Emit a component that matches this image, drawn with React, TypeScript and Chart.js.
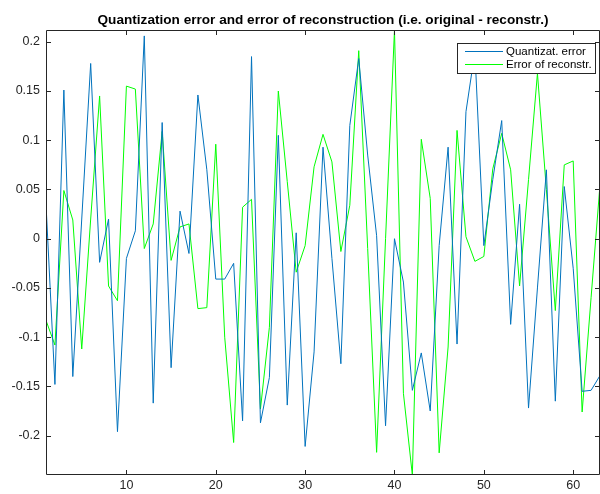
import React, { useEffect, useRef } from "react";
import { Chart, registerables } from "chart.js";

Chart.register(...registerables);

const chartTitle =
  "Quantization error and error of reconstruction (i.e. original - reconstr.)";
const seriesNames = ["Quantizat. error", "Error of reconstr."];

const sampleIndex = [
  1, 2, 3, 4, 5, 6, 7, 8, 9, 10, 11, 12, 13, 14, 15, 16, 17, 18, 19, 20, 21,
  22, 23, 24, 25, 26, 27, 28, 29, 30, 31, 32, 33, 34, 35, 36, 37, 38, 39, 40,
  41, 42, 43, 44, 45, 46, 47, 48, 49, 50, 51, 52, 53, 54, 55, 56, 57, 58, 59,
  60, 61, 62, 63,
];

const quantizationError = [
  0.035, -0.148, 0.151, -0.14, 0.02, 0.178, -0.024, 0.02, -0.196, -0.02,
  0.008, 0.206, -0.167, 0.118, -0.131, 0.028, -0.015, 0.146, 0.07, -0.041,
  -0.041, -0.025, -0.185, 0.185, -0.187, -0.141, 0.105, -0.169, 0.006, -0.211,
  -0.115, 0.093, -0.02, -0.127, 0.115, 0.183, 0.085, 0.003, -0.19, 0.0,
  -0.044, -0.154, -0.116, -0.175, -0.007, 0.093, -0.107, 0.129, 0.19, -0.007,
  0.06, 0.12, -0.087, 0.035, -0.172, -0.05, 0.07, -0.165, 0.053, -0.03,
  -0.155, -0.154, -0.139,
];

const reconstructionError = [
  -0.083, -0.108, 0.049, 0.019, -0.112, 0.02, 0.145, -0.048, -0.063, 0.155,
  0.152, -0.01, 0.015, 0.109, -0.022, 0.012, 0.015, -0.071, -0.07, 0.096,
  -0.1, -0.207, 0.032, 0.04, -0.173, -0.09, 0.15, 0.058, -0.034, -0.007,
  0.073, 0.106, 0.078, -0.013, 0.034, 0.191, -0.01, -0.217, 0.0, 0.212,
  -0.157, -0.24, 0.101, 0.041, -0.2175, -0.11, 0.11, 0.002, -0.023, -0.018,
  0.071, 0.107, 0.07, -0.048, 0.06, 0.168, 0.05, -0.073, 0.075, 0.079,
  -0.176, -0.06, 0.055,
];

const xTickValues = [10, 20, 30, 40, 50, 60];
const yTickValues = [-0.2, -0.15, -0.1, -0.05, 0, 0.05, 0.1, 0.15, 0.2];

const FONT = "'Liberation Sans', Arial, Helvetica, sans-serif";
const AXIS_COLOR = "#262626";
const BLUE = "#0072BD";
const GREEN = "#00FF00";

const matlabFrame = {
  id: "matlabFrame",
  afterDraw(chart: any) {
    const { ctx, chartArea: a, scales } = chart;
    ctx.save();
    // title
    ctx.fillStyle = "#000000";
    ctx.font = `bold 13.6px ${FONT}`;
    ctx.textAlign = "center";
    ctx.textBaseline = "alphabetic";
    ctx.fillText(chartTitle, (a.left + a.right) / 2, 23.5);

    // box
    ctx.strokeStyle = AXIS_COLOR;
    ctx.lineWidth = 1;
    ctx.beginPath();
    ctx.rect(a.left + 0.5, a.top + 0.5, a.right - a.left - 1, a.bottom - a.top - 1);
    ctx.stroke();

    // inner ticks
    const tl = 5;
    ctx.beginPath();
    xTickValues.forEach((v) => {
      const px = Math.round(scales.x.getPixelForValue(v)) + 0.5;
      ctx.moveTo(px, a.bottom);
      ctx.lineTo(px, a.bottom - tl);
      ctx.moveTo(px, a.top);
      ctx.lineTo(px, a.top + tl);
    });
    yTickValues.forEach((v) => {
      const py = Math.round(scales.y.getPixelForValue(v)) + 0.5;
      ctx.moveTo(a.left, py);
      ctx.lineTo(a.left + tl, py);
      ctx.moveTo(a.right, py);
      ctx.lineTo(a.right - tl, py);
    });
    ctx.stroke();

    // legend
    const lx = 457.5;
    const ly = 43.5;
    const lw = 138;
    const lh = 30;
    ctx.fillStyle = "#ffffff";
    ctx.fillRect(lx, ly, lw, lh);
    ctx.strokeStyle = AXIS_COLOR;
    ctx.strokeRect(lx, ly, lw, lh);
    const colors = [BLUE, GREEN];
    const rows = [51.5, 64.5];
    ctx.font = `11.5px ${FONT}`;
    ctx.textAlign = "left";
    ctx.textBaseline = "middle";
    seriesNames.forEach((name, i) => {
      ctx.strokeStyle = colors[i];
      ctx.beginPath();
      ctx.moveTo(465, rows[i]);
      ctx.lineTo(503, rows[i]);
      ctx.stroke();
      ctx.fillStyle = "#000000";
      ctx.fillText(name, 506, rows[i] + 0.5);
    });
    ctx.restore();
  },
};

function formatTick(v: number) {
  const r = Math.round(v * 100) / 100;
  return String(r === 0 ? 0 : r);
}

export default function App() {
  const canvasRef = useRef<HTMLCanvasElement | null>(null);

  useEffect(() => {
    document.body.style.margin = "0";
    const canvas = canvasRef.current;
    if (!canvas) return;
    const chart = new Chart(canvas, {
      type: "line",
      data: {
        datasets: [
          {
            label: seriesNames[0],
            data: sampleIndex.map((x, i) => ({ x, y: quantizationError[i] })),
            borderColor: BLUE,
            backgroundColor: BLUE,
            borderWidth: 1,
            pointRadius: 0,
            tension: 0,
            fill: false,
          },
          {
            label: seriesNames[1],
            data: sampleIndex.map((x, i) => ({ x, y: reconstructionError[i] })),
            borderColor: GREEN,
            backgroundColor: GREEN,
            borderWidth: 1,
            pointRadius: 0,
            tension: 0,
            fill: false,
          },
        ],
      },
      options: {
        responsive: false,
        animation: false,
        events: [],
        layout: { padding: { top: 30, right: 0, left: 0, bottom: 0 } },
        plugins: {
          legend: { display: false },
          title: { display: false },
          tooltip: { enabled: false },
        },
        scales: {
          x: {
            type: "linear",
            min: 1,
            max: 63,
            grid: { display: false, drawTicks: false },
            border: { display: false },
            ticks: {
              color: AXIS_COLOR,
              font: { family: FONT, size: 12.5 },
              padding: 3,
              maxRotation: 0,
              autoSkip: false,
              includeBounds: false,
              callback: (v: any) => String(v),
            },
            afterBuildTicks: (s: any) => {
              s.ticks = xTickValues.map((value) => ({ value }));
            },
            afterFit: (s: any) => {
              s.height = 19;
            },
          },
          y: {
            type: "linear",
            min: -0.24,
            max: 0.212,
            grid: { display: false, drawTicks: false },
            border: { display: false },
            ticks: {
              color: AXIS_COLOR,
              font: { family: FONT, size: 12.5 },
              padding: 6,
              autoSkip: false,
              includeBounds: false,
              callback: (v: any) => formatTick(Number(v)),
            },
            afterBuildTicks: (s: any) => {
              s.ticks = yTickValues.map((value) => ({ value }));
            },
            afterFit: (s: any) => {
              s.width = 46;
            },
          },
        },
      },
      plugins: [matlabFrame],
    });
    return () => chart.destroy();
  }, []);

  return (
    <div style={{ width: 600, height: 494, background: "#ffffff" }}>
      <canvas
        ref={canvasRef}
        width={600}
        height={494}
        style={{ display: "block", width: 600, height: 494 }}
      />
    </div>
  );
}
